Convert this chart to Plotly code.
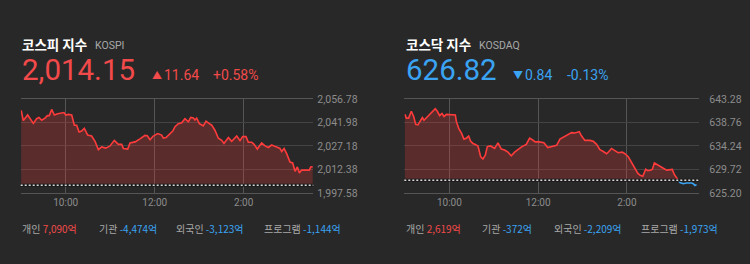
import plotly.graph_objects as go

# ---------------- data ----------------
kospi_min = [0, 2.9, 8.7, 16.4, 20.8, 24.0, 27.6, 32.1, 35.3, 37.9, 41.1, 44.7, 49.2, 54.5, 57.7,
             60.0, 63.5, 68.1, 71.6, 74.8, 78.0, 81.5, 85.1, 89.6, 95.0, 99.5, 104.0, 108.5, 113.9,
             119.8, 125.5, 131.0, 135.5, 137.7, 143.6, 146.7, 153.5, 160.1, 166.9, 170.0, 173.7,
             178.1, 184.0, 189.4, 191.6, 195.3, 200.6, 204.3, 207.4, 211.8, 216.4, 220.8, 225.4,
             228.5, 232.1, 234.3, 236.6, 240.2, 245.5, 249.2, 253.6, 256.9, 261.3, 265.8, 270.3,
             273.4, 279.3, 283.8, 290.6, 295.0, 298.6, 303.1, 306.2, 310.8, 313.9, 318.3, 324.2,
             328.7, 333.2, 337.7, 343.6, 348.9, 351.2, 354.4, 357.9, 362.4, 366.0, 369.2, 372.3,
             375.0, 378.2, 384.9, 388.5, 390.3, 393.0]
kospi_val = [2049.58, 2043.15, 2046.66, 2041.40, 2044.32, 2045.10, 2043.35, 2044.71, 2046.27, 2046.27,
             2050.16, 2046.66, 2047.43, 2047.63, 2048.21, 2046.66, 2047.04, 2046.66, 2040.23, 2040.23,
             2035.95, 2036.53, 2038.28, 2034.00, 2033.42, 2030.11, 2024.85, 2026.60, 2025.82, 2027.19,
             2030.69, 2028.16, 2028.16, 2025.63, 2025.24, 2029.13, 2029.72, 2031.66, 2033.81, 2033.61,
             2031.08, 2033.42, 2034.97, 2034.00, 2032.05, 2032.44, 2034.97, 2036.53, 2039.26, 2041.20,
             2041.79, 2044.32, 2042.37, 2045.10, 2044.71, 2043.54, 2044.71, 2041.20, 2039.84, 2042.76,
             2041.20, 2040.23, 2036.92, 2032.05, 2030.69, 2028.74, 2032.44, 2030.11, 2033.42, 2030.50,
             2033.03, 2033.03, 2029.52, 2029.52, 2028.16, 2025.24, 2029.13, 2027.19, 2026.21, 2027.77,
             2026.60, 2025.63, 2023.68, 2025.63, 2022.32, 2017.06, 2016.48, 2011.22, 2013.95, 2010.25,
             2012.00, 2012.00, 2012.00, 2013.95, 2014.15]

kosdaq_min = [0, 1.9, 5.0, 8.6, 11.8, 14.5, 17.6, 20.8, 23.5, 25.7, 31.1, 35.6, 41.0, 43.7, 46.9,
              50.0, 52.8, 55.9, 62.7, 68.1, 69.4, 72.6, 76.2, 79.8, 82.9, 86.1, 88.8, 91.9, 95.1,
              98.7, 102.3, 105.4, 108.6, 111.3, 115.8, 121.2, 125.7, 130.2, 134.7, 139.2, 143.7,
              148.2, 152.7, 158.1, 164.0, 168.5, 172.1, 176.1, 179.7, 184.2, 187.8, 193.0, 198.2,
              205.0, 209.5, 216.2, 220.7, 225.2, 229.7, 235.6, 238.7, 243.2, 250.0, 254.5, 259.0,
              263.5, 268.0, 272.5, 275.6, 279.2, 283.7, 288.2, 293.6, 297.2, 301.8, 305.6, 310.1,
              314.6, 317.8, 321.4, 325.4, 328.1, 332.6, 334.4, 337.1, 340.2, 344.7, 349.2, 353.7,
              358.2, 361.3, 364.0, 367.2, 369.4, 371.7, 376.1, 380.6, 387.4, 389.6, 391.9, 394.1]
kosdaq_val = [640.31, 639.59, 639.59, 640.90, 639.89, 638.40, 638.28, 639.12, 639.71, 639.18, 639.89,
              640.48, 641.38, 640.90, 640.07, 640.48, 639.89, 640.31, 640.31, 640.19, 639.00, 637.63,
              636.74, 635.55, 635.73, 636.14, 635.13, 634.72, 634.54, 634.24, 632.16, 631.74, 632.46,
              634.12, 634.24, 633.76, 634.84, 633.65, 633.47, 633.05, 632.34, 633.05, 633.53, 634.12,
              634.54, 635.73, 635.43, 635.01, 635.07, 635.01, 634.84, 633.94, 634.12, 634.36, 635.55,
              636.02, 636.44, 636.80, 636.74, 636.98, 636.14, 635.31, 635.31, 635.13, 634.54, 633.53,
              633.17, 632.75, 633.17, 633.76, 633.35, 632.93, 633.05, 632.75, 632.16, 631.27, 630.20,
              629.01, 628.59, 628.41, 629.78, 629.48, 629.60, 629.78, 630.97, 630.67, 630.37, 629.96,
              629.60, 629.60, 629.72, 628.77, 628.00, 627.66, 627.22, 626.99, 627.11, 627.11, 626.99,
              626.63, 626.82]

prev_close = [2002.51, 627.66]
names_kr = ["코스피 지수", "코스닥 지수"]
names_en = ["KOSPI", "KOSDAQ"]
last_price = ["2,014.15", "626.82"]
change_abs = ["11.64", "0.84"]
change_pct = ["+0.58%", "-0.13%"]
up_flags = [True, False]

kospi_ticks = [1997.58, 2012.38, 2027.18, 2041.98, 2056.78]
kospi_ticklabels = ["1,997.58", "2,012.38", "2,027.18", "2,041.98", "2,056.78"]
kosdaq_ticks = [625.20, 629.72, 634.24, 638.76, 643.28]
kosdaq_ticklabels = ["625.20", "629.72", "634.24", "638.76", "643.28"]

x_tickvals = [60, 180, 300]
x_ticklabels = ["10:00", "12:00", "2:00"]

investor_labels = ["개인", "기관", "외국인", "프로그램"]
kospi_flows = ["7,090억", "-4,474억", "-3,123억", "-1,144억"]
kosdaq_flows = ["2,619억", "-372억", "-2,209억", "-1,973억"]

# ---------------- style ----------------
W, H = 750, 264
BG = "#282828"
RED = "#f24a4a"
LINE_RED = "#ff3b3b"
BLUE = "#3aa3f2"
GRID = "#444444"
VGRID = "#555555"
TICK = "#8c8c8c"
NUMFONT = "Roboto, Noto Sans CJK KR, sans-serif"
KRFONT = "Noto Sans CJK KR, sans-serif"

def px_x(x):
    return x / W

def px_y(y):
    return 1 - y / H

fig = go.Figure()

charts = [
    dict(t=kospi_min, v=kospi_val, ticks=kospi_ticks, labels=kospi_ticklabels,
         xdom=[20.7, 313.3], xr=[-0.67, 393.8], standoff=3, flows=kospi_flows,
         left=20, tx=[150, 162, 211], en_x=93, flow_x=[20, 96.5, 174, 261.5]),
    dict(t=kosdaq_min, v=kosdaq_val, ticks=kosdaq_ticks, labels=kosdaq_ticklabels,
         xdom=[404.3, 699.3], xr=[-0.88, 397.8], standoff=9, flows=kosdaq_flows,
         left=404, tx=[511, 522.5, 565], en_x=476.5, flow_x=[404, 480, 551.5, 639]),
]

ydom = [px_y(196.7), px_y(97.7)]
annotations = []
shapes = []

for i, c in enumerate(charts):
    xa = "x" if i == 0 else "x2"
    ya = "y" if i == 0 else "y2"
    pc = prev_close[i]
    t, v = c["t"], c["v"]
    # split into above (red) and below (blue) segments
    last_above = max(k for k in range(len(v)) if v[k] >= pc)
    tr, vr = t[:last_above + 1], v[:last_above + 1]
    tb, vb = t[last_above:], v[last_above:]
    # baseline for fill
    fig.add_trace(go.Scatter(x=tr, y=[pc] * len(tr), mode="lines", line=dict(width=0),
                             hoverinfo="skip", showlegend=False, xaxis=xa, yaxis=ya))
    fig.add_trace(go.Scatter(x=tr, y=vr, mode="lines", line=dict(color=LINE_RED, width=1.6),
                             fill="tonexty", fillcolor="rgba(255,60,60,0.24)",
                             hoverinfo="skip", showlegend=False, xaxis=xa, yaxis=ya))
    if len(tb) > 1:
        fig.add_trace(go.Scatter(x=tb, y=vb, mode="lines", line=dict(color=BLUE, width=1.6),
                                 hoverinfo="skip", showlegend=False, xaxis=xa, yaxis=ya))
    # previous-close dotted line
    shapes.append(dict(type="line", xref=f"{xa} domain", yref=ya, x0=0, x1=1, y0=pc, y1=pc,
                       line=dict(color="#1a1a1a", width=3)))
    shapes.append(dict(type="line", xref=f"{xa} domain", yref=ya, x0=0, x1=1, y0=pc, y1=pc,
                       line=dict(color="#d8d8d8", width=1.6, dash="2px,2px")))

    ax = dict(domain=[px_x(c["xdom"][0]), px_x(c["xdom"][1])], range=c["xr"],
              tickvals=x_tickvals, ticktext=x_ticklabels, showgrid=True, gridcolor=VGRID,
              gridwidth=1, zeroline=False, showline=True, mirror=True, linecolor=VGRID,
              linewidth=1, ticks="", tickfont=dict(family=NUMFONT, size=10, color=TICK),
              fixedrange=True)
    ay = dict(domain=ydom, range=[c["ticks"][0], c["ticks"][-1]], side="right",
              tickvals=c["ticks"], ticktext=c["labels"], showgrid=True, gridcolor=GRID,
              gridwidth=1, zeroline=False, showline=False, ticks="",
              ticklabelstandoff=c["standoff"],
              tickfont=dict(family=NUMFONT, size=10.5, color=TICK), fixedrange=True)
    if i == 0:
        fig.update_layout(xaxis=ax, yaxis=dict(ay, anchor="x"))
    else:
        fig.update_layout(xaxis2=dict(ax, anchor="y2"), yaxis2=dict(ay, anchor="x2"))

    col = RED if up_flags[i] else BLUE
    tri = "▲" if up_flags[i] else "▼"
    # header
    annotations.append(dict(text=f"<b>{names_kr[i]}</b>", x=px_x(c["left"]), y=px_y(39.5),
                            font=dict(family=KRFONT, size=13.5, color="#ffffff")))
    annotations.append(dict(text=names_en[i], x=px_x(c["en_x"]), y=px_y(41.5),
                            font=dict(family=NUMFONT, size=10.5, color="#a8a8a8")))
    annotations.append(dict(text=last_price[i], x=px_x(c["left"] - 0.5), y=px_y(67.5),
                            font=dict(family=NUMFONT, size=29.5, color=col)))
    annotations.append(dict(text=tri, x=px_x(c["tx"][0]), y=px_y(72),
                            font=dict(family=KRFONT, size=10, color=col)))
    annotations.append(dict(text=change_abs[i], x=px_x(c["tx"][1]), y=px_y(72.5),
                            font=dict(family=NUMFONT, size=14, color=col)))
    annotations.append(dict(text=change_pct[i], x=px_x(c["tx"][2]), y=px_y(72.5),
                            font=dict(family=NUMFONT, size=14, color=col)))
    # investor flows
    for j, lab in enumerate(investor_labels):
        val = c["flows"][j]
        vcol = BLUE if val.startswith("-") else RED
        annotations.append(dict(text=f"{lab} <span style='color:{vcol}'>{val}</span>",
                                x=px_x(c["flow_x"][j]), y=px_y(234),
                                font=dict(family=KRFONT, size=10, color="#a8a8a8")))

for a in annotations:
    a.update(xref="paper", yref="paper", xanchor="left", yanchor="middle",
             showarrow=False, align="left")

fig.update_layout(width=W, height=H, margin=dict(l=0, r=0, t=0, b=0),
                  paper_bgcolor=BG, plot_bgcolor=BG, annotations=annotations, shapes=shapes,
                  showlegend=False)

fig.write_html("out.html", config={"displayModeBar": False})
